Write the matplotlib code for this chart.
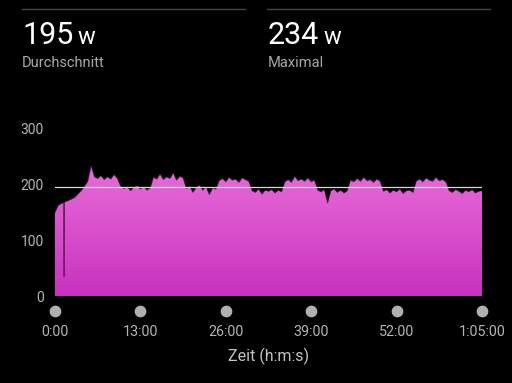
import numpy as np
import matplotlib
matplotlib.use("Agg")
from matplotlib import pyplot as plt
from matplotlib.transforms import blended_transform_factory

# power samples, every 30 s (minutes 0 .. 65)
t_min = np.arange(0, 65.5, 0.5)
watts = [150, 163, 166, 169, 171, 174, 177, 183, 189, 197,
         206, 234, 214, 211, 216, 209, 214, 210, 218, 211,
         197, 193, 196, 189, 195, 198, 192, 196, 190, 194,
         213, 210, 219, 209, 214, 211, 221, 208, 215, 212,
         193, 197, 186, 195, 199, 190, 196, 182, 194, 192,
         207, 211, 205, 213, 208, 210, 204, 212, 209, 206,
         189, 186, 192, 183, 190, 188, 191, 185, 190, 187,
         205, 209, 204, 215, 207, 210, 206, 212, 205, 208,
         190, 187, 191, 167, 189, 192, 186, 190, 185, 189,
         208, 205, 211, 206, 213, 207, 209, 204, 210, 206,
         188, 191, 185, 190, 187, 192, 184, 189, 190, 186,
         206, 210, 205, 212, 208, 206, 213, 207, 209, 205,
         189, 186, 191, 188, 184, 190, 187, 191, 185, 188, 189]

# short drop-out near the start
dip_min = [1.33, 1.36, 1.39, 1.42]
dip_w = [168, 35, 35, 168]

avg_power = 195
max_power = 234

tick_min = [0, 13, 26, 39, 52, 65]
tick_lbl = ["0:00", "13:00", "26:00", "39:00", "52:00", "1:05:00"]
ytick_vals = [0, 100, 200, 300]

t = np.concatenate([t_min, dip_min])
w = np.concatenate([watts, dip_w])
order = np.argsort(t)
t, w = t[order], w[order]

plt.rcParams['font.family'] = ['Roboto', 'DejaVu Sans']

fig = plt.figure(figsize=(5.12, 3.83), dpi=100, facecolor='black')
ax = fig.add_axes([55/512, 87/383, 427/512, 167/383])
ax.set_facecolor('black')

# gradient fill clipped to the area under the curve
poly = ax.fill_between(t, w, 0, color='none', lw=0)
grad = np.linspace(0, 1, 256).reshape(-1, 1)
cmap = matplotlib.colors.LinearSegmentedColormap.from_list('pk', ['#c832bf', '#e86cd9'])
im = ax.imshow(grad, cmap=cmap, aspect='auto', origin='lower',
               extent=[0, 65, 0, 235], zorder=1)
im.set_clip_path(poly.get_paths()[0], transform=ax.transData)
ax.plot(t, w, color='#3a0c35', lw=0.6, alpha=0.6, zorder=2)

ax.axhline(avg_power, color='#d8d8d8', lw=0.9, zorder=3)

ax.set_xlim(0, 65)
ax.set_ylim(0, 300)
for s in ax.spines.values():
    s.set_visible(False)

ax.set_yticks(ytick_vals)
ax.set_yticklabels([str(v) for v in ytick_vals])
ax.set_xticks(tick_min)
ax.set_xticklabels(tick_lbl)
ax.tick_params(axis='y', length=0, pad=8, labelsize=10, labelcolor='#b4b4b4')
ax.tick_params(axis='x', length=0, pad=21, labelsize=10.3, labelcolor='#b4b4b4')

trans = blended_transform_factory(ax.transData, ax.transAxes)
ax.scatter(tick_min, [-0.09] * len(tick_min), s=55, color='#b0b0b0',
           transform=trans, clip_on=False, zorder=4)

fig.text(268.5/512, 1 - 356/383, "Zeit (h:m:s)", ha='center', va='center',
         fontsize=11.5, color='#c4c4c4')

# header
fig.add_artist(plt.Line2D([22/512, 245/512], [1 - 9/383] * 2, color='#444444', lw=1))
fig.add_artist(plt.Line2D([267/512, 490/512], [1 - 9/383] * 2, color='#444444', lw=1))
fig.text(22/512, 1 - 44/383, str(avg_power), fontsize=22, color='white', va='baseline')
fig.text(78/512, 1 - 44/383, "w", fontsize=17, color='white', va='baseline')
fig.text(22/512, 1 - 67/383, "Durchschnitt", fontsize=10.5, color='#a8a8a8', va='baseline')
fig.text(268/512, 1 - 44/383, str(max_power), fontsize=22, color='white', va='baseline')
fig.text(324/512, 1 - 44/383, "w", fontsize=17, color='white', va='baseline')
fig.text(268/512, 1 - 67/383, "Maximal", fontsize=10.5, color='#a8a8a8', va='baseline')

fig.savefig("out.png", dpi=100, facecolor='black')
